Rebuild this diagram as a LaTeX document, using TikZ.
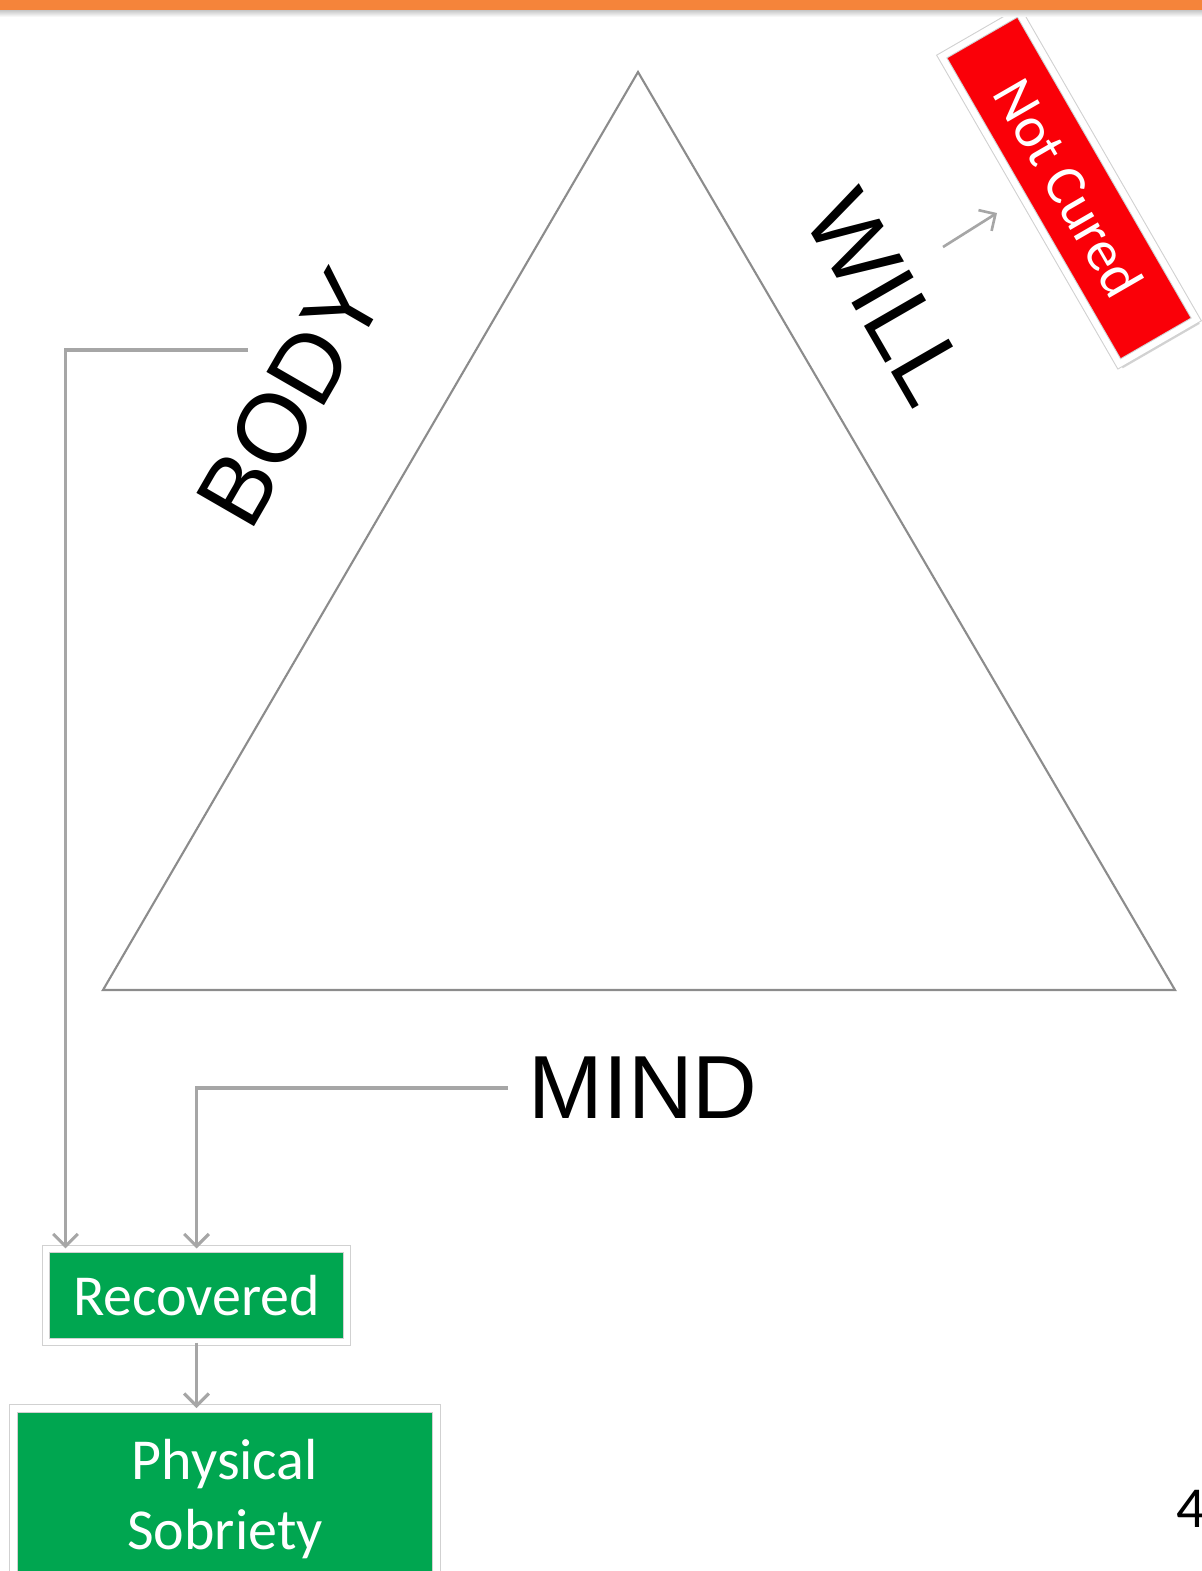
\documentclass[tikz,border=0pt]{standalone}
\usepackage{fontspec}
\setmainfont{Liberation Sans}
\newfontfamily\calibri{Carlito}
\usetikzlibrary{arrows.meta,shadows}

\begin{document}
\begin{tikzpicture}[x=0.02cm,y=-0.02cm,
  boxText/.style={font=\calibri\fontsize{33}{40}\selectfont},
  slideBox/.style={boxText, draw=black!18, line width=0.6pt, double=white, double distance=3.6pt,
    text=white, align=center, inner sep=0pt,
    drop shadow={opacity=0.35, shadow xshift=2pt, shadow yshift=-2.5pt}},
  bigLabel/.style={font=\fontsize{51}{60}\selectfont, inner sep=0pt},
  connLine/.style={draw=lineGray, line width=1.8pt, -{Straight Barb[length=7pt,width=14pt]}}]

% Colori
\definecolor{colGreen}{HTML}{00A650}
\definecolor{colRed}{HTML}{FA0008}
\definecolor{colOrange}{HTML}{F5843A}
\definecolor{lineGray}{HTML}{A6A6A6}
\definecolor{triGray}{HTML}{8C8C8C}

\useasboundingbox (0,0) rectangle (1202,1571);

% Triangolo
\draw[triGray, line width=1.2pt, line join=miter] (638,72) -- (1175,990) -- (103,990) -- cycle;

% Lati
\node[bigLabel, font=\fontsize{55}{60}\selectfont, rotate=60] (body) at (290,398) {BODY};
\node[bigLabel, font=\fontsize{55}{60}\selectfont, rotate=-60] (will) at (887,298) {WILL};
\node[bigLabel] (mind) at (643,1088) {MIND};

% Riquadri
\node[slideBox, fill=colRed, rotate=-60, minimum width=7.1cm, minimum height=1.78cm] (notCured) at (1069,188) {Not Cured};
\node[slideBox, fill=colGreen, minimum width=6.02cm, minimum height=1.86cm] (rec) at (196.5,1295.5) {Recovered};
\node[slideBox, fill=colGreen, minimum width=8.46cm, minimum height=3.62cm] (phys) at (225,1499) {Physical\\Sobriety};

% Barra superiore
\shade[top color=gray!45, bottom color=white] (0,10) rectangle (1202,17);
\fill[colOrange] (0,0) rectangle (1202,10);

% Collegamenti
\coordinate (bodyStart) at (248,350);
\coordinate (willTip) at (943,247);
\coordinate (curedTip) at (997,213);
\draw[connLine] (bodyStart) -| ([xshift=0.4cm]rec.north west);
\draw[connLine] ([xshift=-0.4cm]mind.west) -| (rec.north);
\draw[connLine] (rec.south) -- (rec.south |- phys.north);
\draw[connLine, line width=1.5pt] (willTip) -- (curedTip);

% Numero pagina
\node[boxText, anchor=west, inner sep=0pt] (pageNum) at (1176,1509) {4};

\end{tikzpicture}
\end{document}
